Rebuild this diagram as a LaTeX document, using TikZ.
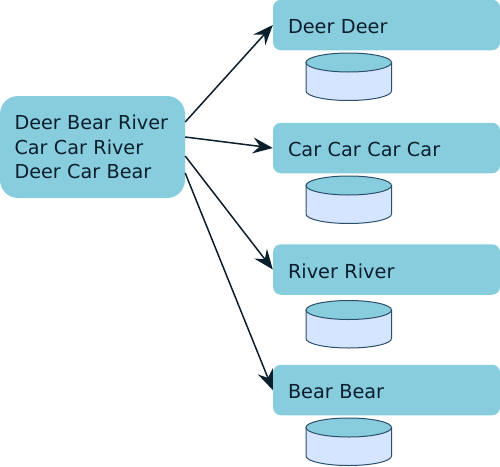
\documentclass[tikz,border=0pt]{standalone}
\usepackage{fontspec}
\setmainfont{DejaVu Sans}
\usetikzlibrary{arrows.meta}
\definecolor{boxteal}{HTML}{88CDDE}
\definecolor{drumblue}{HTML}{D5E5FF}
\definecolor{drumline}{HTML}{2B4F6B}
\definecolor{inkdark}{HTML}{0B1E2C}
\tikzset{
  x=1pt,y=-1pt,
  sourcebox/.style={fill=boxteal,rounded corners=18pt,minimum width=185pt,minimum height=102pt,text width=156pt,inner xsep=14.5pt,inner ysep=0pt,align=left,font=\fontsize{19.2pt}{24.5pt}\selectfont,text=inkdark},
  mapbox/.style={fill=boxteal,rounded corners=8pt,minimum width=227pt,minimum height=50.5pt,text width=197pt,inner xsep=15pt,inner ysep=0pt,align=left,text height=17pt,text depth=0pt,font=\fontsize{19.3pt}{24.5pt}\selectfont,text=inkdark},
  flow/.style={draw=inkdark,line width=1.5pt,-{Stealth[length=20pt,width=16pt,inset=7pt]}},
  drumside/.style={draw=drumline,line width=1pt,fill=drumblue},
  drumtop/.style={draw=drumline,line width=1pt,fill=boxteal},
}
\newcommand{\drumat}[1]{%
  \path[drumside] (306,#1+9.5) -- (306,#1+38) arc[start angle=180,end angle=360,x radius=42.75pt,y radius=9.5pt] -- (391.5,#1+9.5) -- cycle;
  \path[drumtop] (348.75,#1+9.5) ellipse[x radius=42.75pt,y radius=9.5pt];
}
\begin{document}
\begin{tikzpicture}
\useasboundingbox (0,0) rectangle (500,466);
\node[sourcebox] (src) at (92.5,147) {Deer Bear River\\Car Car River\\Deer Car Bear};
\node[mapbox] (deer) at (386.5,25) {Deer Deer};
\node[mapbox] (car) at (386.5,148) {Car Car Car Car};
\node[mapbox] (river) at (386.5,269.5) {River River};
\node[mapbox] (bear) at (386.5,390) {Bear Bear};
\drumat{53}
\drumat{176}
\drumat{300.5}
\drumat{418}
\draw[flow] ([yshift=25pt]src.east) -- (deer.west);
\draw[flow] ([yshift=10pt]src.east) -- (car.west);
\draw[flow] ([yshift=-9pt]src.east) -- (river.west);
\draw[flow] ([yshift=-26pt]src.east) -- (bear.west);
\end{tikzpicture}
\end{document}
